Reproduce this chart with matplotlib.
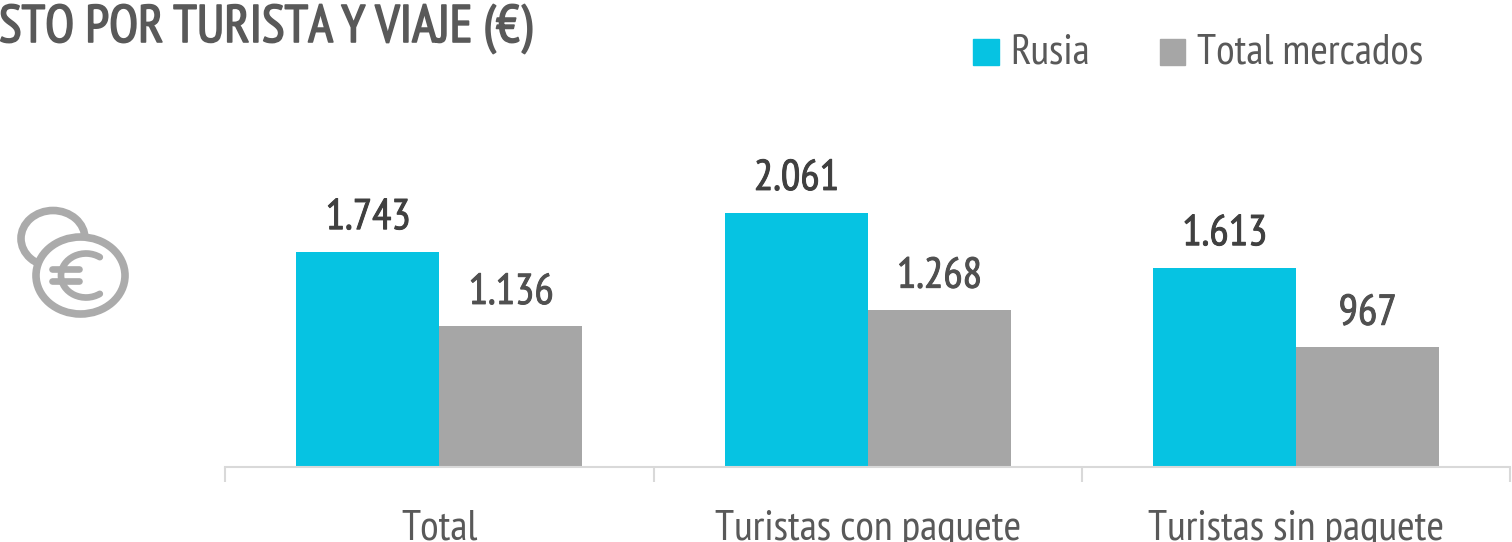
import matplotlib.pyplot as plt
import matplotlib.patheffects as pe
import numpy as np
from matplotlib.patches import Ellipse, Rectangle, Arc

categories = ["Total", "Turistas con paquete", "Turistas sin paquete"]
rusia = [1743, 2061, 1613]
total_mercados = [1136, 1268, 967]
value_labels_rusia = ["1.743", "2.061", "1.613"]
value_labels_total = ["1.136", "1.268", "967"]

CYAN = "#06C3E2"
GREY = "#A6A6A6"
DARK = "#404040"
LABEL = "#595959"
ICON = "#ABABAB"

plt.rcParams["font.family"] = ["PT Sans Narrow", "Asap Condensed", "Open Sans", "DejaVu Sans"]

W, H = 1512, 542
fig = plt.figure(figsize=(W / 100, H / 100), dpi=100)


def thick(color, w=0.7):
    # reference text is slightly heavier than the regular weight
    return [pe.withStroke(linewidth=w, foreground=color)]


# plot area in pixels: x 225-1510, baseline at y=466.5
ax = fig.add_axes([225.3 / W, (H - 466.5) / H, 1285 / W, 320 / H])
x = np.arange(3)
width = 143 / 428.3
ax.bar(x - width / 2, rusia, width, color=CYAN)
ax.bar(x + width / 2, total_mercados, width, color=GREY)

for i in range(3):
    ax.text(x[i] - width / 2, rusia[i] + 110, value_labels_rusia[i], ha="center", va="bottom",
            fontsize=31, color=DARK, path_effects=thick(DARK))
    ax.text(x[i] + width / 2, total_mercados[i] + 110, value_labels_total[i], ha="center", va="bottom",
            fontsize=31, color="#505050", path_effects=thick("#505050"))

ax.set_xlim(-0.5, 2.5)
ax.set_ylim(0, 2061 * 320 / 254)
for s in ["top", "left", "right"]:
    ax.spines[s].set_visible(False)
ax.spines["bottom"].set_color("#D9D9D9")
ax.spines["bottom"].set_linewidth(1.5)
ax.set_yticks([])
ax.set_xticks([-0.5, 0.5, 1.5, 2.5], labels=[])
ax.tick_params(axis="x", length=11, color="#D9D9D9", width=1.5, direction="out")
for i, c in enumerate(categories):
    ax.text(x[i], -0.135, c, transform=ax.get_xaxis_transform(), ha="center", va="top", fontsize=30.7,
            color=LABEL, clip_on=False)

# overlay in pixel coordinates
ov = fig.add_axes([0, 0, 1, 1])
ov.axis("off")
ov.patch.set_alpha(0)

ov.text(-1, 29, "STO POR TURISTA Y VIAJE (€)", fontsize=38, color=LABEL, va="center", ha="left",
        path_effects=thick(LABEL, 1.2))

ov.add_patch(Rectangle((973, 39), 26, 26, color=CYAN))
ov.text(1010, 53, "Rusia", fontsize=30.7, color=LABEL, va="center")
ov.add_patch(Rectangle((1160, 39), 25, 26, color=GREY))
ov.text(1197, 53, "Total mercados", fontsize=30.7, color=LABEL, va="center")

# coins icon, a little squashed in the reference
ov.add_patch(Ellipse((53, 238.5), 64, 56, fill=False, ec=ICON, lw=5.5))
ov.add_patch(Ellipse((80.5, 275.5), 89, 77, fc="white", ec=ICON, lw=5.5, zorder=3))
# euro sign drawn as arc and two bars, like the icon
ov.add_patch(Arc((86, 275.5), 50, 44, angle=0, theta1=53, theta2=307, ec=ICON, lw=4.8, zorder=4, capstyle="round"))
ov.plot([52, 79], [269, 269], color=ICON, lw=4.8, solid_capstyle="round", zorder=4)
ov.plot([52, 79], [281, 281], color=ICON, lw=4.8, solid_capstyle="round", zorder=4)
ov.set_xlim(0, W)
ov.set_ylim(H, 0)

fig.savefig("out.png", dpi=100)
